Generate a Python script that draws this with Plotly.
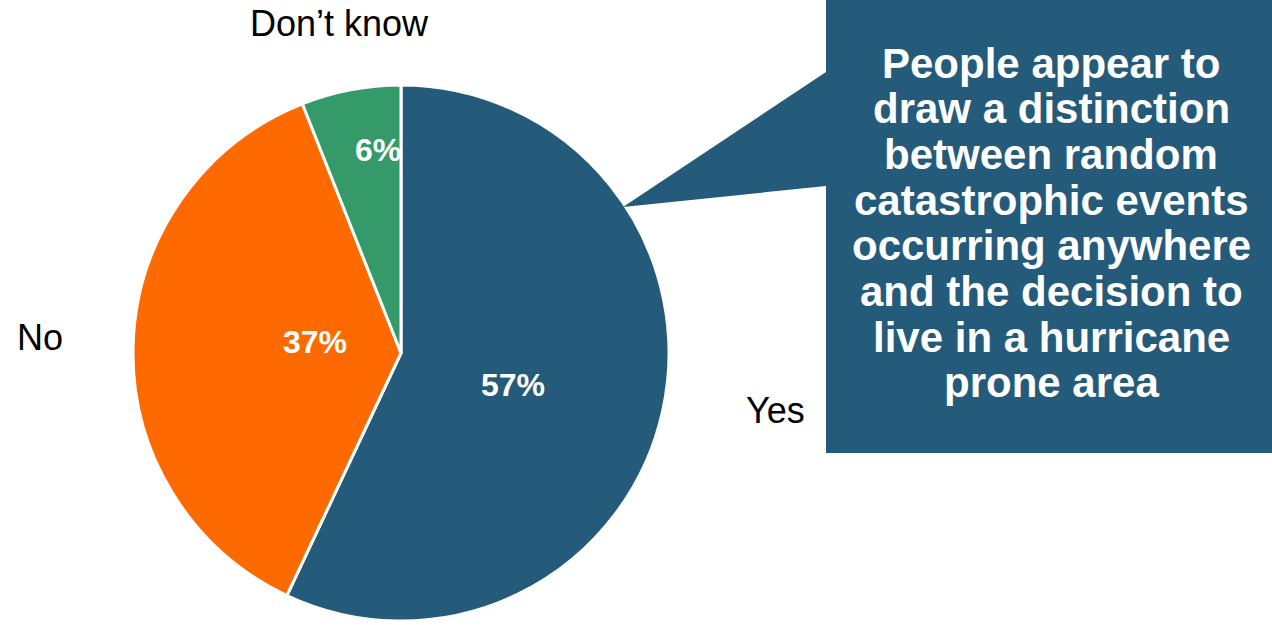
import plotly.graph_objects as go

# Survey answers
labels = ["Yes", "No", "Don\u2019t know"]
values = [57, 37, 6]
colors = ["#245B7A", "#FF6A00", "#359A6A"]

callout_lines = [
    "People appear to",
    "draw a distinction",
    "between random",
    "catastrophic events",
    "occurring anywhere",
    "and the decision to",
    "live in a hurricane",
    "prone area",
]

W, H = 1272, 625
FONT = "Arial, Liberation Sans, sans-serif"


def px(x):
    return x / W


def py(y):
    return 1 - y / H


# pie geometry in pixels
cx, cy, R = 401, 353, 268

fig = go.Figure(
    go.Pie(
        labels=labels,
        values=values,
        sort=False,
        direction="clockwise",
        rotation=0,
        marker=dict(colors=colors, line=dict(color="white", width=3)),
        textinfo="none",
        showlegend=False,
        hoverinfo="label+percent",
        domain=dict(x=[px(cx - R), px(cx + R)], y=[py(cy + R), py(cy - R)]),
    )
)

annotations = []

# value labels inside the slices
value_pos = {"Yes": (513, 385), "No": (315, 342), "Don\u2019t know": (378, 150)}
for lab, val in zip(labels, values):
    x, y = value_pos[lab]
    annotations.append(dict(
        x=px(x), y=py(y), xref="paper", yref="paper",
        text=f"{val}%", showarrow=False, xanchor="center", yanchor="middle",
        font=dict(family=FONT, size=32, color="white", weight="bold"),
    ))

# category labels around the pie
label_pos = {"Yes": (775, 410), "No": (40, 337), "Don\u2019t know": (339, 24)}
for lab in labels:
    x, y = label_pos[lab]
    annotations.append(dict(
        x=px(x), y=py(y), xref="paper", yref="paper",
        text=lab, showarrow=False, xanchor="center", yanchor="middle",
        font=dict(family=FONT, size=36, color="black"),
    ))

# callout text, one line per annotation for tight leading
for i, line in enumerate(callout_lines):
    annotations.append(dict(
        x=px(1051), y=py(63 + 45.7 * i), xref="paper", yref="paper",
        text=line, showarrow=False, xanchor="center", yanchor="middle",
        font=dict(family=FONT, size=42, color="white", weight="bold"),
    ))

# callout box with a pointer towards the "Yes" slice
pts = [(826, 0), (W, 0), (W, 453), (826, 453), (826, 186), (623, 207), (826, 72)]
path = "M " + " L ".join(f"{px(x):.5f},{py(y):.5f}" for x, y in pts) + " Z"

fig.update_layout(
    width=W,
    height=H,
    margin=dict(l=0, r=0, t=0, b=0),
    paper_bgcolor="white",
    plot_bgcolor="white",
    annotations=annotations,
    shapes=[dict(type="path", path=path, xref="paper", yref="paper",
                 fillcolor="#245B7A", line=dict(width=0), layer="above")],
)

fig.write_html("out.html", config={"displayModeBar": False})
